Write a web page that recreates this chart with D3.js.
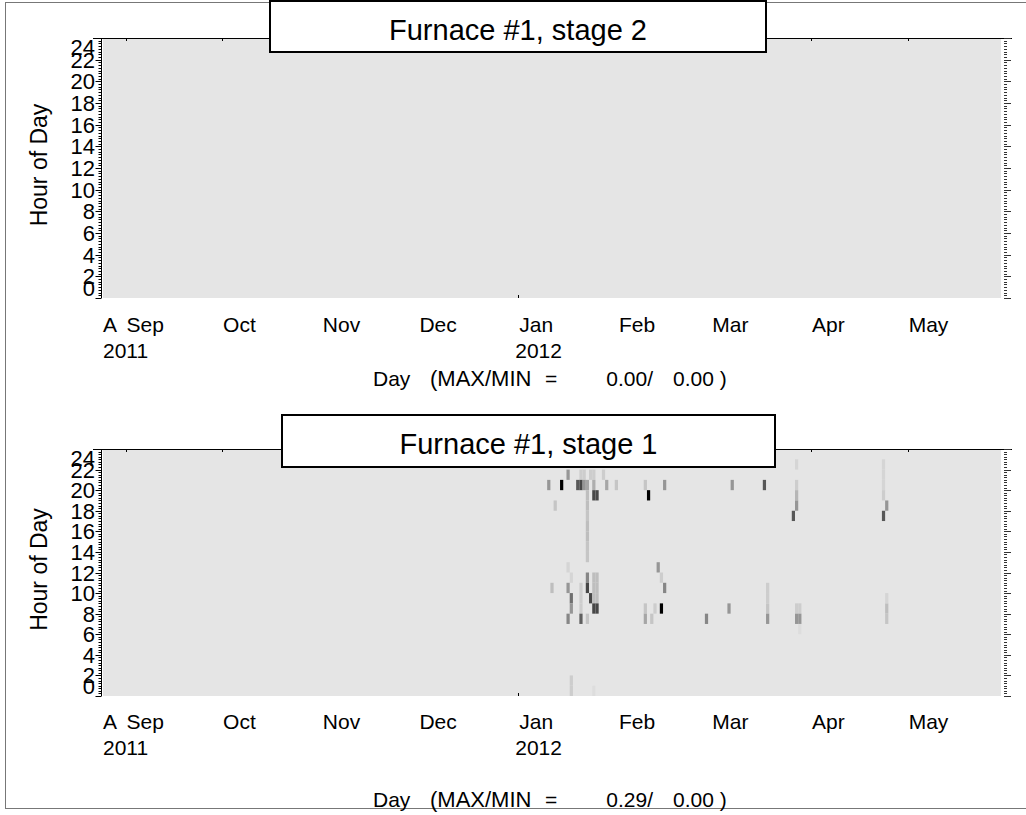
<!DOCTYPE html>
<html><head><meta charset="utf-8">
<script src="https://cdn.jsdelivr.net/npm/d3@7"></script>
<style>body{margin:0;background:#fff}svg{display:block}text{font-family:"Liberation Sans",Arial,sans-serif;fill:#000}</style>
</head><body><svg id="c" width="1026" height="815"></svg>
<script>
// ---------- data ----------
const hourTicks = [0,2,4,6,8,10,12,14,16,18,20,22,24];
const monthLabels = ["A","Sep","Oct","Nov","Dec","Jan","Feb","Mar","Apr","May"];
const yearLabels = ["2011","2012"];
const dateStart = "2011-08-25", dateEnd = "2012-05-30";
const titles = ["Furnace #1, stage 2","Furnace #1, stage 1"];
const maxMin = [["0.00","0.00"],["0.29","0.00"]];
// stage 2: all zero -> no non-zero cells
const s2Days = [], s2Hours = [], s2Values = [];
// stage 1 non-zero cells (day, hour, value)
const s1Days = [
 "2012-01-16","2012-01-20","2012-01-21","2012-01-23","2012-01-24","2012-01-27",
 "2012-01-10","2012-01-14","2012-01-19","2012-01-20","2012-01-21","2012-01-22","2012-01-24","2012-01-28","2012-01-31","2012-02-09","2012-02-15","2012-03-07","2012-03-17","2012-03-27","2012-04-23",
 "2012-01-22","2012-01-24","2012-01-25","2012-02-10","2012-03-27","2012-04-23",
 "2012-01-12","2012-01-22","2012-03-27","2012-04-24",
 "2012-01-22","2012-03-26","2012-04-23",
 "2012-01-22","2012-01-22","2012-01-22","2012-01-22",
 "2012-02-13","2012-01-16",
 "2012-01-17","2012-01-22","2012-01-24","2012-01-25","2012-02-14",
 "2012-01-11","2012-01-16","2012-01-20","2012-01-22","2012-01-24","2012-01-25","2012-02-15",
 "2012-01-17","2012-01-20","2012-01-23","2012-01-24","2012-01-25",
 "2012-01-17","2012-01-20","2012-01-24","2012-01-25","2012-02-09","2012-02-12","2012-02-14","2012-03-06","2012-03-18","2012-03-27","2012-03-28","2012-04-24",
 "2012-01-16","2012-01-20","2012-01-22","2012-02-09","2012-02-11","2012-02-28","2012-03-18","2012-03-27","2012-03-28","2012-04-24",
 "2012-03-28",
 "2012-01-17","2012-01-24",
 "2012-03-27","2012-04-23","2012-04-23","2012-01-17",
 "2012-03-18","2012-03-18","2012-04-24"
];
const s1Hours = [
 21,21,21,21,21,21,
 20,20,20,20,20,20,20,20,20,20,20,20,20,20,20,
 19,19,19,19,19,19,
 18,18,18,18,
 17,17,17,
 16,15,14,13,
 12,12,
 11,11,11,11,11,
 10,10,10,10,10,10,10,
 9,9,9,9,9,
 8,8,8,8,8,8,8,8,8,8,8,8,
 7,7,7,7,7,7,7,7,7,7,
 6,
 0,0,
 22,22,21,1,
 9,10,9
];
const s1Values = [
 0.10,0.03,0.03,0.03,0.03,0.03,
 0.10,0.29,0.18,0.20,0.10,0.08,0.07,0.08,0.04,0.04,0.10,0.10,0.18,0.03,0.02,
 0.05,0.20,0.20,0.29,0.06,0.03,
 0.04,0.05,0.10,0.10,
 0.04,0.18,0.18,
 0.05,0.05,0.04,0.04,
 0.10,0.02,
 0.02,0.12,0.05,0.05,0.03,
 0.05,0.10,0.03,0.20,0.05,0.05,0.12,
 0.15,0.03,0.20,0.05,0.05,
 0.10,0.03,0.20,0.20,0.04,0.03,0.29,0.10,0.04,0.03,0.03,0.05,
 0.12,0.17,0.04,0.08,0.04,0.12,0.10,0.10,0.10,0.04,
 0.01,
 0.03,0.01,
 0.02,0.02,0.02,0.03,
 0.03,0.03,0.02
];

// ---------- layout ----------
const svg = d3.select("#c");
const parse = d3.timeParse("%Y-%m-%d");
const x = d3.scaleTime().domain([parse(dateStart), parse(dateEnd)]).range([103, 1001]);
const color = d3.scaleLinear().domain([0, 0.29]).range(["#e5e5e5", "#000000"]);
const FS = 21;

svg.append("rect").attr("x",5.5).attr("y",2.5).attr("width",1040).attr("height",806)
  .attr("fill","none").attr("stroke","#777");

const panels = [
 {top:38, bottom:298, box:[270,1,496,51], monthY:332, yearY:358, dayY:386, days:s2Days, hours:s2Hours, vals:s2Values},
 {top:449, bottom:696, box:[282,415,493,52], monthY:729, yearY:755, dayY:807, days:s1Days, hours:s1Hours, vals:s1Values}
];

panels.forEach((p, i) => {
  const y = d3.scaleLinear().domain([0, 24]).range([p.bottom, p.top]);
  const g = svg.append("g");
  g.append("rect").attr("x", x.range()[0]).attr("y", p.top).attr("width", x.range()[1]-x.range()[0])
    .attr("height", p.bottom - p.top).attr("fill", color(0));
  const cells = p.days.map((d, k) => ({d: parse(d), h: p.hours[k], v: p.vals[k]}));
  g.selectAll("rect.cell").data(cells).join("rect").attr("class","cell")
    .attr("x", c => x(c.d)).attr("width", c => x(d3.timeDay.offset(c.d,1)) - x(c.d))
    .attr("y", c => y(c.h+1)).attr("height", c => y(c.h) - y(c.h+1))
    .attr("fill", c => color(c.v));
  g.append("line").attr("x1",93).attr("x2",1012).attr("y1",p.top+0.5).attr("y2",p.top+0.5).attr("stroke","#000");
  const ax = 101.5;
  g.append("line").attr("x1",ax).attr("x2",ax).attr("y1",p.top).attr("y2",p.bottom).attr("stroke","#000");
  const minor = d3.range(0, 24.01, 0.25);
  g.selectAll("line.lt").data(minor).join("line").attr("class","lt")
    .attr("x1", ax).attr("x2", h => ax - (h % 2 === 0 ? 6 : 3))
    .attr("y1", h => Math.round(y(h))+0.5).attr("y2", h => Math.round(y(h))+0.5).attr("stroke","#000");
  g.selectAll("line.rt").data(minor).join("line").attr("class","rt")
    .attr("x1", 1004).attr("x2", h => 1004 + (h % 2 === 0 ? 7 : 3))
    .attr("y1", h => Math.round(y(h))+0.5).attr("y2", h => Math.round(y(h))+0.5).attr("stroke","#333");
  g.selectAll("text.yl").data(hourTicks).join("text").attr("class","yl")
    .attr("x", 95).attr("text-anchor","end").attr("font-size",22)
    .attr("y", h => Math.max(p.top + 9, Math.min(p.bottom - 10, y(h))) + 8)
    .text(h => h);
  g.append("text").attr("transform",`translate(47,${(p.top+p.bottom)/2 - 3}) rotate(-90)`)
    .attr("text-anchor","middle").attr("font-size",23).text("Hour of Day");
  const months = d3.timeMonths(parse("2011-09-01"), parse("2012-06-01"));
  g.selectAll("line.mt").data(months).join("line").attr("class","mt")
    .attr("x1", d => Math.round(x(d))+0.5).attr("x2", d => Math.round(x(d))+0.5)
    .attr("y1", p.top).attr("y2", p.top+3).attr("stroke","#000");
  const mpos = [x.range()[0]].concat(months.map(d => x(d) + 1));
  g.selectAll("text.ml").data(monthLabels).join("text").attr("class","ml")
    .attr("x", (d, k) => mpos[k]).attr("y", p.monthY).attr("font-size",FS).text(d => d);
  g.append("line").attr("x1",Math.round(x(parse("2012-01-01")))+0.5).attr("x2",Math.round(x(parse("2012-01-01")))+0.5)
    .attr("y1",p.bottom-3).attr("y2",p.bottom).attr("stroke","#000");
  const ypos = [x.range()[0], x(parse("2012-01-01")) - 3];
  g.selectAll("text.yr").data(yearLabels).join("text").attr("class","yr")
    .attr("x",(d,k)=>ypos[k]).attr("y",p.yearY).attr("font-size",FS).text(d=>d);
  g.append("text").attr("x",373).attr("y",p.dayY).attr("font-size",FS).text("Day");
  g.append("text").attr("x",430).attr("y",p.dayY).attr("font-size",22).text("(MAX/MIN");
  g.append("text").attr("x",545).attr("y",p.dayY).attr("font-size",FS).text("=");
  g.append("text").attr("x",653).attr("y",p.dayY).attr("font-size",FS).attr("text-anchor","end").text(maxMin[i][0] + "/");
  g.append("text").attr("x",673).attr("y",p.dayY).attr("font-size",FS).text(maxMin[i][1] + " )");
  g.append("rect").attr("x",p.box[0]).attr("y",p.box[1]).attr("width",p.box[2]).attr("height",p.box[3])
    .attr("fill","#fff").attr("stroke","#000").attr("stroke-width",2);
  g.append("text").attr("x",p.box[0]+p.box[2]/2).attr("y",p.box[1]+39).attr("text-anchor","middle")
    .attr("font-size",29).text(titles[i]);
});
</script></body></html>
